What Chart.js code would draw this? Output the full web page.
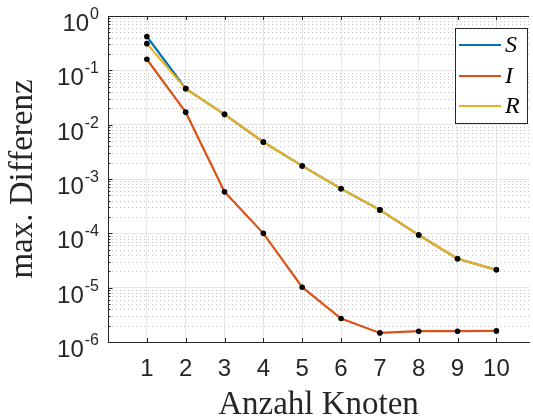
<!DOCTYPE html>
<html>
<head>
<meta charset="utf-8">
<script src="https://cdn.jsdelivr.net/npm/chart.js@4/dist/chart.umd.min.js"></script>
<style>
  html, body { margin: 0; padding: 0; background: #fff; }
  #wrap { width: 533px; height: 420px; }
</style>
</head>
<body>
<div id="wrap"><canvas id="chart"></canvas></div>
<script>
// Knoten 1..10, max. Differenz per compartment
var nodes = [1, 2, 3, 4, 5, 6, 7, 8, 9, 10];
var sVals = [0.42, 0.046, 0.0155, 0.0048, 0.00174, 0.00066, 0.00027, 0.000093, 0.000034, 0.0000213];
var iVals = [0.16, 0.017, 0.00058, 0.0001, 0.0000102, 0.0000027, 0.00000147, 0.00000158, 0.00000158, 0.0000016];
var rVals = [0.31, 0.046, 0.0155, 0.0048, 0.00174, 0.00066, 0.00027, 0.000093, 0.000034, 0.0000213];
var seriesNames = ["S", "I", "R"];
var seriesColors = ["#0072BD", "#D95319", "#EDB120"];
var decadeExps = [-6, -5, -4, -3, -2, -1, 0];
var xTicks = nodes;

var textCol = "#262626";
var sansFont = "'Liberation Sans', Arial, sans-serif";
var serifFont = "'Liberation Serif', 'Times New Roman', serif";
var ctx = document.getElementById("chart");

function toPoints(vals) {
	var pts = [];
	for (var i = 0; i < nodes.length; i++) {
		pts.push({x: nodes[i], y: vals[i]});
	}
	return pts;
}

function makeSet(idx, vals) {
	return {
		label: seriesNames[idx],
		data: toPoints(vals),
		order: 2 - idx, // later series on top, like MATLAB
		borderColor: seriesColors[idx],
		backgroundColor: seriesColors[idx],
		borderWidth: 2.2,
		pointRadius: 2.8,
		pointBackgroundColor: "#000",
		pointBorderColor: "#000",
		pointBorderWidth: 0,
		tension: 0,
		fill: false
	};
}

var matlabPlugin = {
	id: "matlab",
	beforeDatasetsDraw: function(chart) {
		var c = chart.ctx, a = chart.chartArea, ys = chart.scales.y;
		c.save();
		c.strokeStyle = "#c4c4c4";
		c.lineWidth = 1;
		c.setLineDash([1, 3]);
		for (var i = 0; i < decadeExps.length - 1; i++) {
			for (var k = 2; k <= 9; k++) {
				var py = Math.round(ys.getPixelForValue(k * Math.pow(10, decadeExps[i]))) + 0.5;
				c.beginPath();
				c.moveTo(a.left, py);
				c.lineTo(a.right, py);
				c.stroke();
			}
		}
		c.restore();
	},
	afterDraw: function(chart) {
		var c = chart.ctx, a = chart.chartArea, ys = chart.scales.y, xs = chart.scales.x;
		c.save();
		c.strokeStyle = textCol;
		c.lineWidth = 1;
		// top spine
		c.beginPath();
		c.moveTo(a.left, a.top + 0.5);
		c.lineTo(a.right, a.top + 0.5);
		c.stroke();
		// inward ticks
		c.beginPath();
		for (var i = 0; i < xTicks.length; i++) {
			var px = Math.round(xs.getPixelForValue(xTicks[i])) + 0.5;
			c.moveTo(px, a.bottom); c.lineTo(px, a.bottom - 4);
			c.moveTo(px, a.top); c.lineTo(px, a.top + 4);
		}
		for (var j = 0; j < decadeExps.length; j++) {
			var py = Math.round(ys.getPixelForValue(Math.pow(10, decadeExps[j]))) + 0.5;
			c.moveTo(a.left, py); c.lineTo(a.left + 4.5, py);
			if (j < decadeExps.length - 1) {
				for (var k = 2; k <= 9; k++) {
					var my = Math.round(ys.getPixelForValue(k * Math.pow(10, decadeExps[j]))) + 0.5;
					c.moveTo(a.left, my); c.lineTo(a.left + 2.5, my);
				}
			}
		}
		c.stroke();

		// y tick labels 10^n, right aligned as a whole
		c.fillStyle = textCol;
		c.textBaseline = "alphabetic";
		c.textAlign = "left";
		for (var j = 0; j < decadeExps.length; j++) {
			var ty = ys.getPixelForValue(Math.pow(10, decadeExps[j]));
			var ex = decadeExps[j] < 0 ? "-" + (-decadeExps[j]) : String(decadeExps[j]);
			c.font = "16px " + sansFont;
			var ew = c.measureText(ex).width;
			c.font = "24px " + sansFont;
			var bw = c.measureText("10").width;
			var right = 99;
			c.fillText("10", right - ew - bw - 1, ty + 15);
			c.font = "16px " + sansFont;
			c.fillText(ex, right - ew, ty + 3);
		}

		// legend box
		var lx = 455, ly = 28, lw = 72, lh = 95;
		c.fillStyle = "#fff";
		c.fillRect(lx, ly, lw, lh);
		c.strokeStyle = textCol;
		c.lineWidth = 1;
		c.strokeRect(lx + 0.5, ly + 0.5, lw, lh);
		var rows = [45, 76, 106];
		chart.data.datasets.forEach(function(ds, n) {
			c.strokeStyle = ds.borderColor;
			c.lineWidth = 2.2;
			c.beginPath();
			c.moveTo(459, rows[n]);
			c.lineTo(501, rows[n]);
			c.stroke();
			c.fillStyle = "#000";
			c.font = "italic 24px " + serifFont;
			c.textAlign = "left";
			c.textBaseline = "middle";
			c.fillText(ds.label, 505, rows[n] + 1);
		});
		c.restore();
	}
};

var myChart = new Chart(ctx, {
	type: "line",
	data: {
		datasets: [makeSet(0, sVals), makeSet(1, iVals), makeSet(2, rVals)]
	},
	plugins: [matlabPlugin],
	options: {
		responsive: true,
		maintainAspectRatio: false,
		animation: false,
		layout: { padding: { top: 16, right: 0, bottom: 0, left: 0 } },
		plugins: {
			legend: { display: false },
			tooltip: { enabled: false }
		},
		scales: {
			x: {
				type: "linear",
				min: 0,
				max: 10.84,
				afterBuildTicks: function(scale) {
					scale.ticks = xTicks.map(function(v) { return {value: v}; });
				},
				afterFit: function(scale) { scale.height = 78; },
				grid: { color: "#e6e6e6", drawTicks: false },
				border: { color: textCol, width: 1 },
				ticks: {
					color: textCol,
					padding: 13,
					maxRotation: 0,
					font: { family: sansFont, size: 24 },
					callback: function(v) { return String(v); }
				},
				title: {
					display: true,
					text: "Anzahl Knoten",
					color: textCol,
					padding: { top: 0, bottom: 0 },
					font: { family: serifFont, size: 33, lineHeight: 0.9 }
				}
			},
			y: {
				type: "logarithmic",
				min: 1e-6,
				max: 1,
				afterBuildTicks: function(scale) {
					scale.ticks = decadeExps.map(function(e) { return {value: Math.pow(10, e)}; });
				},
				afterFit: function(scale) { scale.width = 108; },
				grid: { color: "#e6e6e6", drawTicks: false },
				border: { color: textCol, width: 1 },
				ticks: { display: false },
				title: {
					display: true,
					text: "max. Differenz",
					color: textCol,
					padding: { top: 8, bottom: 0 },
					font: { family: serifFont, size: 33, lineHeight: 0.9 }
				}
			}
		}
	}
});
</script>
</body>
</html>
